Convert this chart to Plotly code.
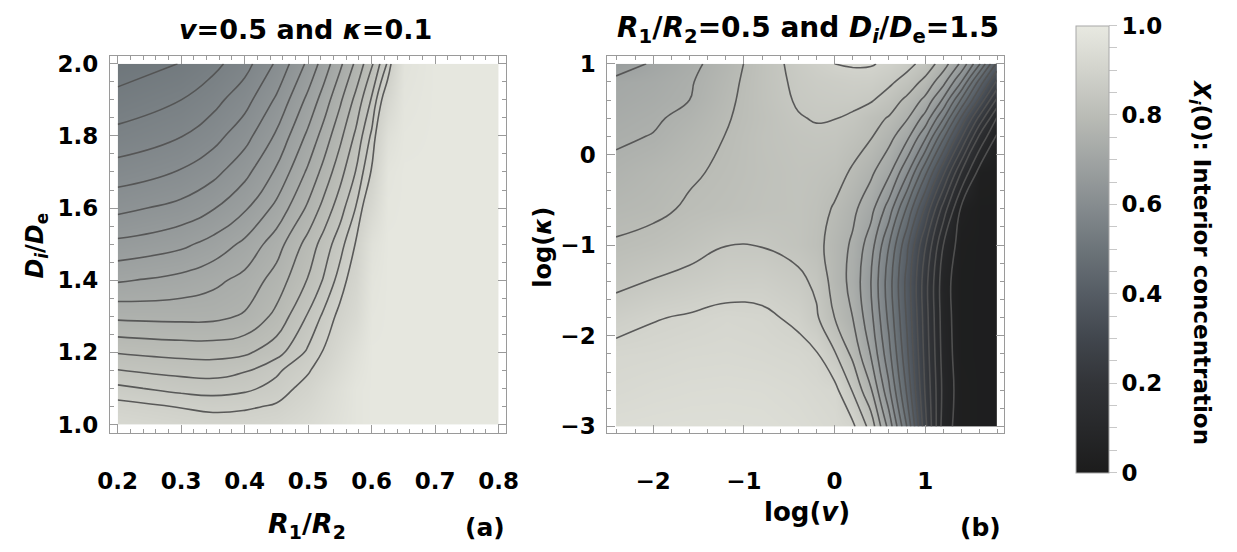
import plotly.graph_objects as go

W, H = 1237, 552

# ---------------- Panel (a): v=0.5, kappa=0.1 ----------------
a_x = [0.2, 0.3, 0.35, 0.4, 0.45, 0.5, 0.525, 0.55, 0.575, 0.6, 0.625, 0.65, 0.7, 0.8]
a_y = [1.0, 1.05, 1.1, 1.15, 1.2, 1.3, 1.4, 1.5, 1.6, 1.7, 1.8, 1.9, 2.0]
a_z = [
    [0.925, 0.910, 0.905, 0.907, 0.915, 0.935, 0.950, 0.965, 0.980, 0.990, 0.990, 0.990, 0.990, 0.990],
    [0.900, 0.887, 0.881, 0.884, 0.893, 0.920, 0.940, 0.960, 0.980, 0.990, 0.990, 0.990, 0.990, 0.990],
    [0.869, 0.854, 0.851, 0.857, 0.872, 0.903, 0.930, 0.955, 0.980, 0.990, 0.990, 0.990, 0.990, 0.990],
    [0.838, 0.828, 0.826, 0.834, 0.858, 0.885, 0.910, 0.940, 0.970, 0.990, 0.990, 0.990, 0.990, 0.990],
    [0.809, 0.802, 0.801, 0.806, 0.826, 0.868, 0.892, 0.925, 0.960, 0.990, 0.990, 0.990, 0.990, 0.990],
    [0.753, 0.751, 0.752, 0.762, 0.792, 0.840, 0.869, 0.898, 0.928, 0.984, 0.990, 0.990, 0.990, 0.990],
    [0.704, 0.715, 0.726, 0.741, 0.770, 0.813, 0.840, 0.874, 0.910, 0.977, 0.990, 0.990, 0.990, 0.990],
    [0.661, 0.675, 0.690, 0.713, 0.747, 0.795, 0.822, 0.852, 0.891, 0.963, 0.990, 0.990, 0.990, 0.990],
    [0.622, 0.637, 0.653, 0.677, 0.714, 0.764, 0.794, 0.825, 0.864, 0.925, 0.986, 0.990, 0.990, 0.990],
    [0.589, 0.605, 0.621, 0.647, 0.685, 0.738, 0.768, 0.801, 0.838, 0.892, 0.979, 0.990, 0.990, 0.990],
    [0.559, 0.576, 0.593, 0.619, 0.659, 0.713, 0.744, 0.778, 0.816, 0.868, 0.957, 0.985, 0.990, 0.990],
    [0.534, 0.551, 0.568, 0.593, 0.633, 0.688, 0.719, 0.754, 0.792, 0.840, 0.917, 0.978, 0.990, 0.990],
    [0.509, 0.526, 0.543, 0.567, 0.607, 0.661, 0.693, 0.727, 0.764, 0.806, 0.866, 0.970, 0.990, 0.990],
]
a_levels = dict(start=0.525, end=0.9, size=0.026)

# ---------------- Panel (b): R1/R2=0.5, Di/De=1.5 ----------------
b_x = [-2.41, -2.0, -1.6, -1.2, -0.8, -0.4, -0.2, 0.0, 0.2, 0.4, 0.6, 0.8, 1.0, 1.2, 1.4, 1.6, 1.79]
b_y = [-3.0, -2.6, -2.2, -1.8, -1.4, -1.0, -0.6, -0.2, 0.2, 0.4, 0.6, 0.8, 1.0]
b_z = [
    [0.945, 0.948, 0.950, 0.950, 0.948, 0.940, 0.933, 0.925, 0.910, 0.832, 0.682, 0.497, 0.265, 0.075, 0.025, 0.020, 0.020],
    [0.927, 0.934, 0.938, 0.940, 0.938, 0.930, 0.922, 0.915, 0.846, 0.756, 0.610, 0.440, 0.245, 0.085, 0.025, 0.020, 0.020],
    [0.915, 0.918, 0.924, 0.926, 0.922, 0.915, 0.904, 0.855, 0.788, 0.697, 0.565, 0.410, 0.233, 0.078, 0.022, 0.020, 0.020],
    [0.880, 0.897, 0.905, 0.915, 0.910, 0.890, 0.857, 0.800, 0.750, 0.665, 0.537, 0.392, 0.225, 0.073, 0.022, 0.020, 0.020],
    [0.836, 0.853, 0.866, 0.878, 0.880, 0.862, 0.840, 0.779, 0.735, 0.651, 0.524, 0.383, 0.221, 0.070, 0.022, 0.020, 0.020],
    [0.805, 0.815, 0.830, 0.849, 0.848, 0.832, 0.815, 0.779, 0.742, 0.673, 0.551, 0.411, 0.254, 0.100, 0.024, 0.020, 0.020],
    [0.783, 0.790, 0.806, 0.815, 0.825, 0.830, 0.820, 0.795, 0.762, 0.717, 0.627, 0.491, 0.343, 0.178, 0.040, 0.020, 0.020],
    [0.7635, 0.779, 0.794, 0.808, 0.822, 0.832, 0.828, 0.820, 0.793, 0.759, 0.710, 0.608, 0.462, 0.310, 0.144, 0.030, 0.025],
    [0.742, 0.752, 0.777, 0.801, 0.825, 0.838, 0.842, 0.840, 0.825, 0.804, 0.767, 0.714, 0.612, 0.462, 0.308, 0.141, 0.045],
    [0.732, 0.743, 0.764, 0.796, 0.822, 0.847, 0.853, 0.851, 0.842, 0.818, 0.796, 0.754, 0.682, 0.554, 0.392, 0.233, 0.095],
    [0.722, 0.733, 0.750, 0.790, 0.825, 0.855, 0.862, 0.865, 0.864, 0.855, 0.827, 0.789, 0.738, 0.641, 0.492, 0.338, 0.190],
    [0.715, 0.725, 0.745, 0.784, 0.826, 0.860, 0.870, 0.875, 0.880, 0.878, 0.860, 0.830, 0.786, 0.716, 0.599, 0.430, 0.290],
    [0.670, 0.707, 0.735, 0.776, 0.825, 0.866, 0.883, 0.900, 0.905, 0.904, 0.890, 0.866, 0.832, 0.774, 0.6885, 0.555, 0.390],
]
b_levels = dict(start=0.05, end=0.9, size=0.05)

# colour bar
cbar_range = [0.0, 1.0]
cbar_tickvals = [round(i * 0.05, 2) for i in range(21)]
cbar_ticktext = ["0" if v == 0 else (f"{v:.1f}" if abs(v * 5 - round(v * 5)) < 1e-9 else "") for v in cbar_tickvals]

gray_tones = [
    [0.0, "#1c1c1c"], [0.1, "#27282a"], [0.2, "#323438"], [0.3, "#41464d"],
    [0.4, "#555c64"], [0.5, "#6c7479"], [0.6, "#868c8f"], [0.7, "#a0a4a3"],
    [0.8, "#babcb6"], [0.9, "#d2d3cc"], [1.0, "#e8e9e1"],
]

FONT = "DejaVu Sans, Verdana, sans-serif"
line_style = dict(color="rgba(82,82,82,0.95)", width=1.6, smoothing=1.3)

fig = go.Figure()
fig.add_trace(go.Contour(
    x=a_x, y=a_y, z=a_z, xaxis="x", yaxis="y",
    colorscale=gray_tones, zmin=0, zmax=1, zauto=False, autocontour=False,
    contours=dict(coloring="heatmap", showlines=True, **a_levels),
    line=line_style, showscale=False, hoverinfo="skip",
))
fig.add_trace(go.Contour(
    x=b_x, y=b_y, z=b_z, xaxis="x2", yaxis="y2",
    colorscale=gray_tones, zmin=0, zmax=1, zauto=False, autocontour=False,
    contours=dict(coloring="heatmap", showlines=True, **b_levels),
    line=line_style, showscale=False, hoverinfo="skip",
))
# colour bar only
fig.add_trace(go.Scatter(
    x=[None], y=[None], xaxis="x2", yaxis="y2", mode="markers", showlegend=False,
    marker=dict(
        color=cbar_range, colorscale=gray_tones, cmin=0, cmax=1, showscale=True,
        colorbar=dict(
            x=1086 / W, xanchor="left", xpad=0,
            y=1 - 21 / H, yanchor="top", ypad=0,
            len=456 / H, lenmode="fraction", thickness=33, thicknessmode="pixels",
            outlinewidth=1, outlinecolor="#a8a8a8",
            tickmode="array", tickvals=cbar_tickvals, ticktext=cbar_ticktext,
            ticks="outside", ticklen=8, tickcolor="#c8c8c8", tickwidth=1,
            tickfont=dict(family=FONT, size=23, color="black", weight="bold"),
        ),
    ),
))

axis_common = dict(
    showline=True, linecolor="#9a9a9a", linewidth=1, mirror="ticks",
    ticks="inside", ticklen=8, tickcolor="#9a9a9a", tickwidth=1,
    showgrid=False, zeroline=False,
    tickfont=dict(family=FONT, size=23, color="black", weight="bold"),
)

fig.update_layout(
    width=W, height=H, margin=dict(l=0, r=0, t=0, b=0),
    paper_bgcolor="white", plot_bgcolor="white", showlegend=False,
    xaxis=dict(domain=[99 / W, 504 / W], range=[0.1877, 0.8123], anchor="y",
               tick0=0.2, dtick=0.1, tickformat=".1f", ticklabelstandoff=27,
               minor=dict(dtick=0.02, ticklen=4, tickcolor="#9a9a9a", ticks="inside"),
               **axis_common),
    yaxis=dict(domain=[115 / H, 500 / H], range=[0.9755, 2.0217], anchor="x",
               tick0=1.0, dtick=0.2, tickformat=".1f", ticklabelstandoff=6,
               minor=dict(dtick=0.05, ticklen=4, tickcolor="#9a9a9a", ticks="inside"),
               **axis_common),
    xaxis2=dict(domain=[607 / W, 1012 / W], range=[-2.507, 1.866], anchor="y2",
                tick0=0, dtick=1, ticklabelstandoff=27,
                minor=dict(dtick=0.2, ticklen=4, tickcolor="#9a9a9a", ticks="inside"),
                **axis_common),
    yaxis2=dict(domain=[115 / H, 500 / H], range=[-3.0757, 1.0865], anchor="x2",
                tick0=0, dtick=1, ticklabelstandoff=6,
                minor=dict(dtick=0.2, ticklen=4, tickcolor="#9a9a9a", ticks="inside"),
                **axis_common),
)

def ann(text, xp, yp, size, angle=0, xanchor="center"):
    fig.add_annotation(text=text, x=xp / W, y=1 - yp / H, xref="paper", yref="paper",
                       showarrow=False, textangle=angle, xanchor=xanchor, yanchor="middle",
                       font=dict(family=FONT, size=size, color="black"))

ann("<b><i>v</i>=0.5 and <i>κ</i>=0.1</b>", 299, 25, 27)
ann("<b><i>R</i><sub>1</sub>/<i>R</i><sub>2</sub>=0.5 and <i>D</i><sub><i>i</i></sub>/<i>D</i><sub>e</sub>=1.5</b>", 812, 25, 28)
ann("<b><i>R</i><sub>1</sub>/<i>R</i><sub>2</sub></b>", 300, 531, 27)
ann("<b>(a)</b>", 482, 533, 25)
ann("<b>log(<i>v</i>)</b>", 811, 517, 26)
ann("<b>(b)</b>", 988, 533, 25)
ann("<b><i>D</i><sub><i>i</i></sub>/<i>D</i><sub>e</sub></b>", 24, 245, 24, angle=-90)
ann("<b>log(<i>κ</i>)</b>", 541, 247, 24, angle=-90)
ann("<b><i>X</i><sub><i>i</i></sub>(0): Interior concentration</b>", 1213, 262, 23, angle=90)

fig.write_html("out.html", config={"displayModeBar": False},
               post_script="document.body.style.margin='0px';")
